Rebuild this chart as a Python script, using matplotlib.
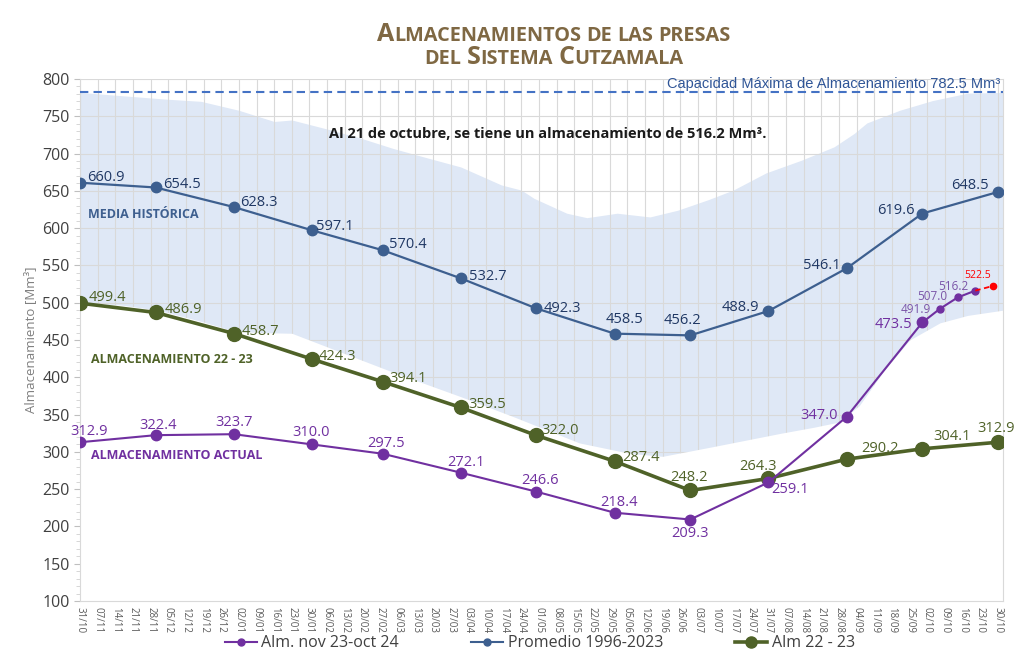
import numpy as np
import pandas as pd
import matplotlib
matplotlib.use('Agg')
import matplotlib.pyplot as plt
from matplotlib.lines import Line2D

plt.rcParams['font.family'] = ['Open Sans', 'DejaVu Sans']

inicio = pd.Timestamp('2022-10-31')

semanas = ['31/10', '07/11', '14/11', '21/11', '28/11', '05/12', '12/12', '19/12', '26/12',
           '02/01', '09/01', '16/01', '23/01', '30/01', '06/02', '13/02', '20/02', '27/02',
           '06/03', '13/03', '20/03', '27/03', '03/04', '10/04', '17/04', '24/04', '01/05',
           '08/05', '15/05', '22/05', '29/05', '05/06', '12/06', '19/06', '26/06', '03/07',
           '10/07', '17/07', '24/07', '31/07', '07/08', '14/08', '21/08', '28/08', '04/09',
           '11/09', '18/09', '25/09', '02/10', '09/10', '16/10', '23/10', '30/10']

fechas_mes = ['2022-10-31', '2022-11-30', '2022-12-31', '2023-01-31', '2023-02-28', '2023-03-31',
              '2023-04-30', '2023-05-31', '2023-06-30', '2023-07-31', '2023-08-31', '2023-09-30',
              '2023-10-30']
promedio = [660.9, 654.5, 628.3, 597.1, 570.4, 532.7, 492.3, 458.5, 456.2, 488.9, 546.1, 619.6, 648.5]
alm_22_23 = [499.4, 486.9, 458.7, 424.3, 394.1, 359.5, 322.0, 287.4, 248.2, 264.3, 290.2, 304.1, 312.9]
alm_actual = [312.9, 322.4, 323.7, 310.0, 297.5, 272.1, 246.6, 218.4, 209.3, 259.1, 347.0, 473.5]

fechas_oct = ['2023-09-30', '2023-10-07', '2023-10-14', '2023-10-21']
alm_oct = [473.5, 491.9, 507.0, 516.2]
fechas_pron = ['2023-10-21', '2023-10-28']
pronostico = [516.2, 522.5]
capacidad = 782.5

# envolvente historica (maximo / minimo), dias desde 31/10
dias_max = [0, 15, 34, 48, 63, 77, 84, 99, 111, 124, 139, 151, 167, 175, 180, 193, 201, 213,
            226, 237, 249, 259, 272, 286, 299, 307, 312, 325, 338, 352, 366]
hist_max = [782, 778, 773, 770, 758, 743, 745, 732, 721, 707, 693, 682, 658, 651, 640, 620, 614, 620,
            615, 624, 638, 651, 674, 691, 709, 727, 741, 758, 771, 781, 782]
dias_min = [0, 16, 31, 48, 61, 71, 84, 124, 151, 172, 198, 218, 231, 251, 278, 291, 301, 309,
            319, 329, 341, 352, 366]
hist_min = [500, 497, 490, 475, 462, 460, 459, 407, 374, 347, 312, 298, 294, 307, 325, 333, 340, 362,
            410, 450, 473, 483, 490]


def dias(fechas):
    return np.array((pd.to_datetime(fechas) - inicio).days)


c_azul = '#3D5F8F'
c_verde = '#4F6228'
c_morado = '#7030A0'

fig = plt.figure(figsize=(10.24, 6.57), dpi=100)
ax = fig.add_axes([0.0781, 0.0852, 0.9014, 0.7946])
ax.set_xlim(0, 366)
ax.set_ylim(100, 800)
ax.set_axisbelow(True)

# banda historica + relleno blanco debajo del minimo (tapa la reticula)
ax.fill_between(dias_max, hist_max, 100, color='#DFE8F6', lw=0, zorder=0.2)
ax.fill_between(dias_min, hist_min, 100, color='white', lw=0, zorder=0.7)

ax.axhline(capacidad, color='#4472C4', ls=(0, (4, 2.5)), lw=1.5, zorder=3)

d_mes = dias(fechas_mes)
ax.plot(d_mes, promedio, color=c_azul, lw=1.6, marker='o', ms=7.5, zorder=4)
ax.plot(d_mes, alm_22_23, color=c_verde, lw=2.6, marker='o', ms=10, zorder=5)
ax.plot(d_mes[:len(alm_actual)], alm_actual, color=c_morado, lw=1.5, marker='o', ms=7.5, zorder=6)
ax.plot(dias(fechas_oct), alm_oct, color=c_morado, lw=1.5, marker='o', ms=5, markevery=[1, 2, 3], zorder=6)
ax.plot(dias(fechas_pron), pronostico, color='#FF0000', ls=(0, (3, 2)), lw=1.3, zorder=6)
ax.plot(dias(fechas_pron)[1:], pronostico[1:], 'o', color='#FF0000', ms=4.5, zorder=7)

# etiquetas de datos (desplazamiento en pixeles)
off_azul = [(26, 5), (26, 3), (25, 5), (23, 4), (25, 6), (27, 2), (26, 0), (10, 14), (-8, 15),
            (-28, 3), (-25, 3), (-26, 3), (-28, 6)]
off_verde = [(27, 6), (28, 3), (27, 2), (25, 3), (25, 3), (26, 3), (24, 5), (26, 4), (-1, 13),
             (-10, 12), (33, 11), (30, 12), (-2, 14)]
off_morado = [(9, 11), (2, 10), (0, 12), (-1, 12), (3, 10), (5, 10), (4, 11), (4, 10), (0, -14),
              (22, -7), (-28, 1), (-29, -2)]
off_oct = [(-24, -1), (-25, 1), (-22, 4)]

for x, v, o in zip(d_mes, promedio, off_azul):
    ax.annotate(f'{v:.1f}', (x, v), xytext=o, textcoords='offset pixels', ha='center', va='center',
                fontsize=10.5, color='#203864', zorder=8)
for x, v, o in zip(d_mes, alm_22_23, off_verde):
    ax.annotate(f'{v:.1f}', (x, v), xytext=o, textcoords='offset pixels', ha='center', va='center',
                fontsize=10.5, color=c_verde, zorder=8)
for x, v, o in zip(d_mes, alm_actual, off_morado):
    ax.annotate(f'{v:.1f}', (x, v), xytext=o, textcoords='offset pixels', ha='center', va='center',
                fontsize=10.5, color=c_morado, zorder=8)
for x, v, o in zip(dias(fechas_oct)[1:], alm_oct[1:], off_oct):
    ax.annotate(f'{v:.1f}', (x, v), xytext=o, textcoords='offset pixels', ha='center', va='center',
                fontsize=8.5, color='#7A55A8', zorder=8)
ax.annotate(f'{pronostico[1]:.1f}', (dias(fechas_pron)[1], pronostico[1]), xytext=(-15, 10),
            textcoords='offset pixels', ha='center', va='center', fontsize=7.5, color='#FF0000', zorder=8)

# ejes
ax.set_xticks(np.arange(len(semanas)) * 7)
ax.set_xticklabels(semanas, rotation=-90, fontsize=7, color='#595959')
ax.set_yticks(np.arange(100, 801, 50))
ax.set_yticks(np.arange(100, 801, 10), minor=True)
ax.tick_params(axis='y', labelsize=11.5, labelcolor='#404040', color='#BFBFBF', length=4)
ax.tick_params(axis='y', which='minor', color='#D0D0D0', length=3)
ax.tick_params(axis='x', length=0, pad=4)
ax.grid(True, which='major', color='#D9D9D9', lw=0.8)
for s in ['left', 'bottom', 'right']:
    ax.spines[s].set_color('#D9D9D9')
ax.spines['top'].set_visible(False)
ax.set_ylabel('Almacenamiento [Mm³]', color='#7F7F7F', fontsize=9.5, labelpad=4)

ax.text(0.9968, 0.990, 'Capacidad Máxima de Almacenamiento 782.5 Mm³', transform=ax.transAxes,
        ha='right', va='center', fontsize=10.5, color='#2F5597', family=['Liberation Sans', 'DejaVu Sans'])
ax.text(0.507, 0.895, 'Al 21 de octubre, se tiene un almacenamiento de 516.2 Mm³.', transform=ax.transAxes,
        ha='center', va='center', fontsize=10.5, fontweight='bold', color='#1A1A1A')
ax.text(0.0087, 0.741, 'MEDIA HISTÓRICA', transform=ax.transAxes, ha='left', va='center',
        fontsize=9, fontweight='bold', color='#3E5F8F', zorder=9)
ax.text(0.0119, 0.4617, 'ALMACENAMIENTO 22 - 23', transform=ax.transAxes, ha='left', va='center',
        fontsize=9, fontweight='bold', color=c_verde, zorder=9)
ax.text(0.0119, 0.2797, 'ALMACENAMIENTO ACTUAL', transform=ax.transAxes, ha='left', va='center',
        fontsize=9, fontweight='bold', color=c_morado, zorder=9)

# leyenda
handles = [Line2D([], [], color=c_morado, lw=1.5, marker='o', ms=5),
           Line2D([], [], color=c_azul, lw=1.5, marker='o', ms=5),
           Line2D([], [], color=c_verde, lw=2.6, marker='o', ms=8)]
fig.legend(handles, ['Alm. nov 23-oct 24', 'Promedio 1996-2023', 'Alm 22 - 23'], loc='center',
           bbox_to_anchor=(0.527, 0.021), ncol=3, frameon=False, fontsize=11.5, columnspacing=4.5,
           handlelength=2.0, handletextpad=0.3, labelcolor='#404040')


# titulo en versalitas
def versalitas(y, texto, grande, chica, color):
    r = fig.canvas.get_renderer()
    W = fig.get_size_inches()[0] * fig.dpi

    def ancho(s, size):
        t = fig.text(0, 0, s, fontsize=size, fontweight='bold')
        w = t.get_window_extent(r).width
        t.remove()
        return w

    esp = ancho('A A', chica) - ancho('AA', chica)
    piezas = []
    for i, palabra in enumerate(texto.split(' ')):
        if i > 0:
            piezas.append((None, esp))
        trozo, tam = '', None
        for ch in palabra:
            t = grande if ch.isupper() else chica
            if tam is not None and t != tam:
                piezas.append(((trozo, tam), ancho(trozo, tam)))
                trozo = ''
            trozo += ch.upper()
            tam = t
        piezas.append(((trozo, tam), ancho(trozo, tam)))
    total = sum(p[1] for p in piezas)
    x = 0.541 * W - total / 2
    for p, w in piezas:
        if p is not None:
            fig.text(x / W, y, p[0], fontsize=p[1], fontweight='bold', color=color, va='baseline')
        x += w


versalitas(0.937, 'Almacenamientos de las presas', 18, 14.3, '#7F6843')
versalitas(0.903, 'del Sistema Cutzamala', 18, 14.3, '#7F6843')

fig.savefig('out.png', dpi=100)
